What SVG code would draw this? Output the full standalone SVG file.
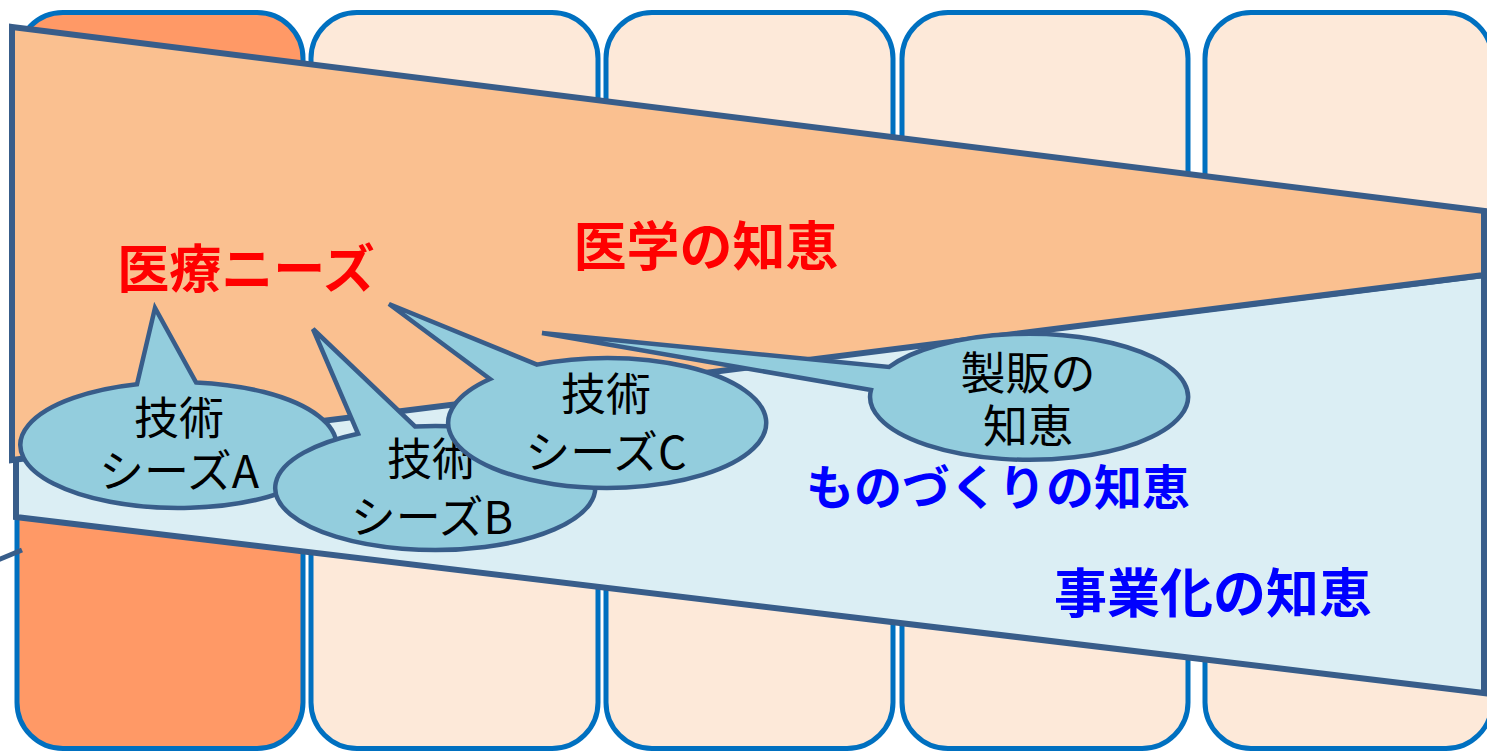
<svg xmlns="http://www.w3.org/2000/svg" width="1487" height="752" viewBox="0 0 1487 752">
<style>
.col{stroke:#0070C0;stroke-width:5}
.band{stroke:#385D8A;stroke-width:6;stroke-linejoin:miter}
.call{fill:#93CDDD;stroke:#385D8A;stroke-width:4.5;stroke-linejoin:miter}
.ct{font-family:"Noto Sans CJK JP","Noto Sans",sans-serif;font-size:45px;fill:#000;text-anchor:middle}
.big{font-family:"Noto Sans CJK JP","Noto Sans",sans-serif;font-weight:bold;text-anchor:middle}
</style>
<rect width="1487" height="752" fill="#FFFFFF"/>
<g id="columns">
<rect id="col1" class="col" x="17" y="12.5" width="286" height="736" rx="46" fill="#FF9966"/>
<rect id="col2" class="col" x="311" y="12.5" width="287" height="736" rx="46" fill="#FDE9D9"/>
<rect id="col3" class="col" x="606" y="12.5" width="287" height="736" rx="46" fill="#FDE9D9"/>
<rect id="col4" class="col" x="902" y="12.5" width="286" height="736" rx="46" fill="#FDE9D9"/>
<rect id="col5" class="col" x="1205" y="12.5" width="287" height="736" rx="46" fill="#FDE9D9"/>
</g>
<g id="band-monozukuri">
<polygon class="band" points="16,457 1484,275 1484,693 16,517" fill="#DBEEF4"/>
</g>
<g id="band-igaku">
<polygon class="band" points="12,27 1484,211 1484,275 12,460" fill="#FAC090"/>
</g>
<g id="connectors">
<line x1="-2" y1="560" x2="22" y2="550" stroke="#385D8A" stroke-width="5"/>
</g>
<g id="callout-A">
<path class="call" d="M137,384.2 L155,308 L196,382.4 A158,63 0 1 1 137,384.2 Z"/>
<text class="ct" x="179" y="435">技術<tspan x="179" dy="53">シーズA</tspan></text>
</g>
<g id="callout-B">
<path class="call" d="M358,433.7 L313,329 L415,426.5 A160,62 0 1 1 358,433.7 Z"/>
<text class="ct" x="432" y="476">技術<tspan x="432" dy="58">シーズB</tspan></text>
</g>
<g id="callout-C">
<path class="call" d="M490,379 L389,304 L537,364.6 A159,65 0 1 1 490,379 Z"/>
<text class="ct" x="606" y="411">技術<tspan x="606" dy="58">シーズC</tspan></text>
</g>
<g id="callout-seihan">
<path class="call" d="M871,390 L542,333 L889,367 A159,63 0 1 1 871,390 Z"/>
<text class="ct" x="1028" y="390">製販の<tspan x="1028" dy="53">知恵</tspan></text>
</g>
<g id="label-igaku"><text class="big" x="706" y="266" font-size="53" fill="#FF0000">医学の知恵</text></g>
<g id="label-iryo"><text class="big" x="246" y="288" font-size="52" fill="#FF0000">医療ニーズ</text></g>
<g id="label-monozukuri"><text class="big" x="998" y="505" font-size="48" fill="#0000FF">ものづくりの知恵</text></g>
<g id="label-jigyoka"><text class="big" x="1213" y="613" font-size="53" fill="#0000FF">事業化の知恵</text></g>
</svg>
